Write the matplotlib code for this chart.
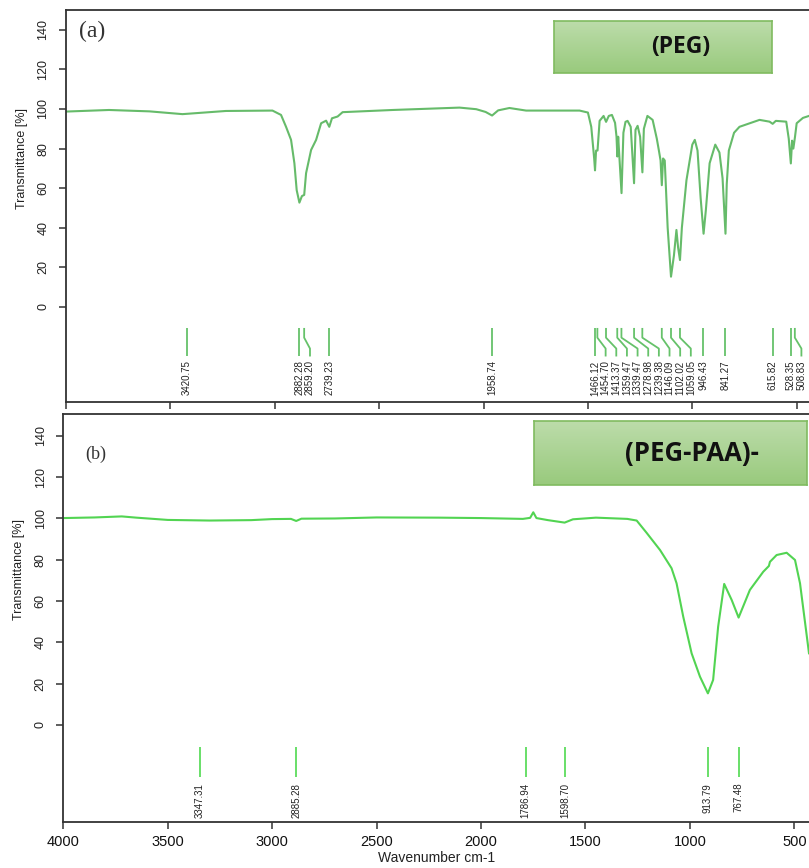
import numpy as np
import matplotlib
matplotlib.use("Agg")
import matplotlib.pyplot as plt
from matplotlib.colors import LinearSegmentedColormap

plt.rcParams['font.family'] = ['Liberation Sans', 'DejaVu Sans']

# (a) PEG spectrum
peg_wn = [4000, 3794, 3600, 3442, 3234, 3011, 2970, 2946, 2922, 2906, 2895, 2882, 2870,
          2859, 2850, 2826, 2802, 2778, 2754, 2739, 2726, 2699, 2675, 2435, 2115, 2035,
          1990, 1959, 1930, 1876, 1796, 1636, 1540, 1500, 1484, 1470, 1466, 1461, 1454,
          1444, 1425, 1413, 1400, 1385, 1370, 1363, 1359, 1355, 1339, 1330, 1320, 1310,
          1295, 1279, 1272, 1262, 1250, 1239, 1232, 1215, 1190, 1170, 1160, 1152, 1146,
          1140, 1132, 1118, 1102, 1088, 1076, 1068, 1059, 1050, 1028, 1000, 988, 975,
          960, 946, 935, 917, 890, 870, 855, 841, 835, 825, 800, 774, 678, 630, 615,
          600, 550, 538, 528, 522, 516, 508, 500, 470, 441]
peg_t = [98.7, 99.5, 98.8, 97.4, 99.0, 99.2, 97.0, 91.0, 84.4, 72.6, 59.0, 52.7, 56.0,
         56.6, 67.6, 79.3, 84.4, 92.8, 94.1, 91.0, 95.3, 96.2, 98.4, 99.5, 100.7, 99.9,
         98.5, 96.7, 99.3, 100.5, 99.2, 99.2, 99.2, 98.2, 91.0, 75.0, 69.0, 79.0, 79.0,
         94.0, 96.5, 93.5, 96.5, 97.0, 93.0, 86.0, 76.0, 86.0, 57.5, 88.0, 93.5, 94.0,
         91.0, 62.5, 89.5, 91.5, 86.0, 68.0, 90.0, 96.5, 94.5, 85.0, 79.0, 74.0, 61.5,
         75.0, 74.0, 40.0, 15.3, 26.0, 38.9, 30.0, 23.7, 40.0, 64.0, 82.0, 84.4, 79.0,
         55.0, 37.0, 49.0, 72.6, 82.0, 78.0, 65.0, 37.0, 62.0, 79.0, 88.0, 91.0, 94.5,
         93.6, 92.5, 94.0, 93.6, 85.0, 72.5, 84.0, 80.0, 86.0, 92.8, 95.5, 96.5]
peg_peaks = [3420.75, 2882.28, 2859.20, 2739.23, 1958.74, 1466.12, 1454.70, 1413.37,
             1359.47, 1339.47, 1278.98, 1239.38, 1146.09, 1102.02, 1059.05, 946.43,
             841.27, 615.82, 528.35, 508.83]

# (b) PEG-PAA spectrum
paa_wn = [4000, 3850, 3720, 3650, 3500, 3300, 3100, 3000, 2910, 2885, 2860, 2700, 2500,
          2200, 2000, 1800, 1765, 1750, 1735, 1680, 1600, 1560, 1450, 1300, 1255, 1207,
          1143, 1088, 1064, 1032, 992, 952, 914, 889, 865, 836, 800, 767, 713, 649, 622,
          617, 585, 537, 497, 473, 430]
paa_t = [100.2, 100.5, 101.0, 100.4, 99.3, 99.0, 99.2, 99.7, 99.8, 98.8, 99.9, 100.0,
         100.5, 100.4, 100.2, 99.8, 100.3, 103.0, 100.2, 99.2, 98.0, 99.6, 100.4, 99.8,
         99.0, 93.0, 84.7, 75.9, 68.6, 52.4, 34.7, 23.4, 15.3, 21.8, 47.6, 68.3, 60.5,
         52.0, 65.4, 74.2, 77.0, 79.0, 82.3, 83.4, 79.9, 68.6, 34.7]
paa_peaks = [3347.31, 2885.28, 1786.94, 1598.70, 913.79, 767.48]

y_ticks = [0, 20, 40, 60, 80, 100, 120, 140]
x_ticks = [4000, 3500, 3000, 2500, 2000, 1500, 1000, 500]

W, H = 809, 868
fig = plt.figure(figsize=(W / 100, H / 100), dpi=100)


def fig_rect(x0, y0, x1, y1):
    # pixel box (top-left origin) -> figure fraction rect
    return [x0 / W, 1 - y1 / H, (x1 - x0) / W, (y1 - y0) / H]


def style_axes(ax, xlim, ylim):
    ax.set_xlim(*xlim)
    ax.set_ylim(*ylim)
    for s in ['left', 'bottom', 'top']:
        ax.spines[s].set_color('#333333')
        ax.spines[s].set_linewidth(1.3)
    ax.spines['right'].set_visible(False)
    ax.set_yticks(y_ticks)
    ax.set_yticklabels([str(t) for t in y_ticks], rotation=90, va='center',
                       fontsize=9, color='#222222')
    ax.set_xticks(x_ticks)
    ax.tick_params(axis='both', length=5, width=1.1, color='#333333')
    ax.tick_params(axis='y', pad=7)
    ax.set_ylabel('Transmittance [%]', fontsize=9, color='#222222')
    ax.yaxis.set_label_coords(-0.051, 0.62)


def draw_peaks(ax, peaks, color, ys, ylab, gap, bend=True):
    # leader lines + rotated labels; crowded labels pushed to lower wavenumber
    prev = None
    for p in sorted(peaks, reverse=True):
        lp = p if prev is None or not bend else min(p, prev - gap)
        prev = lp
        ax.plot([p, p, lp, lp], ys, color=color, lw=1.3, solid_capstyle='butt')
        ax.text(lp, ylab, f"{p:.2f}", rotation=90, ha='center', va='top',
                fontsize=7, color='#222222')


def draw_box(rect, label, size):
    bx = fig.add_axes(rect)
    cmap = LinearSegmentedColormap.from_list('g', ['#bcdcaa', '#99ca7d'])
    bx.imshow(np.linspace(0, 1, 64).reshape(-1, 1), cmap=cmap, aspect='auto',
              extent=[0, 1, 0, 1], origin='upper')
    bx.set_xticks([])
    bx.set_yticks([])
    for s in bx.spines.values():
        s.set_color('#80bb60')
        s.set_linewidth(1.2)
    bx.text(0.58, 0.5, label, ha='center', va='center', fontsize=size,
            fontweight='bold', family=['Open Sans', 'DejaVu Sans'], color='#111111')


# ---- panel (a)
ax1 = fig.add_axes(fig_rect(66, 10, 809, 402))
ax1.plot(peg_wn, peg_t, color='#66bb6a', lw=1.5)
style_axes(ax1, (4000, 441), (-48, 150))
ax1.tick_params(axis='x', labelbottom=False)
draw_peaks(ax1, peg_peaks, '#66c26a', [-10.6, -15.5, -21, -25], -27, 51)
ax1.text(0.018, 0.945, '(a)', transform=ax1.transAxes, fontsize=17,
         family=['Liberation Serif', 'DejaVu Serif'], color='#333333', va='center')
draw_box(fig_rect(554, 21, 772, 73), '(PEG)', 16.5)

# ---- panel (b)
ax2 = fig.add_axes(fig_rect(63.3, 414, 809, 822))
ax2.plot(paa_wn, paa_t, color='#52d452', lw=1.5)
style_axes(ax2, (4000, 430), (-47, 150.6))
ax2.set_xticklabels([str(t) for t in x_ticks], fontsize=10.5, color='#111111')
ax2.tick_params(axis='x', pad=4)
ax2.set_xlabel('Wavenumber cm-1', fontsize=10, color='#222222', labelpad=2)
draw_peaks(ax2, paa_peaks, '#5ddc5d', [-10.6, -18, -18, -25], -28, 0, bend=False)
ax2.text(0.03, 0.9, '(b)', transform=ax2.transAxes, fontsize=13,
         family=['Liberation Serif', 'DejaVu Serif'], color='#333333', va='center')
draw_box(fig_rect(534, 421, 807, 485), '(PEG-PAA)-', 18.5)

fig.savefig('out.png', dpi=100)
